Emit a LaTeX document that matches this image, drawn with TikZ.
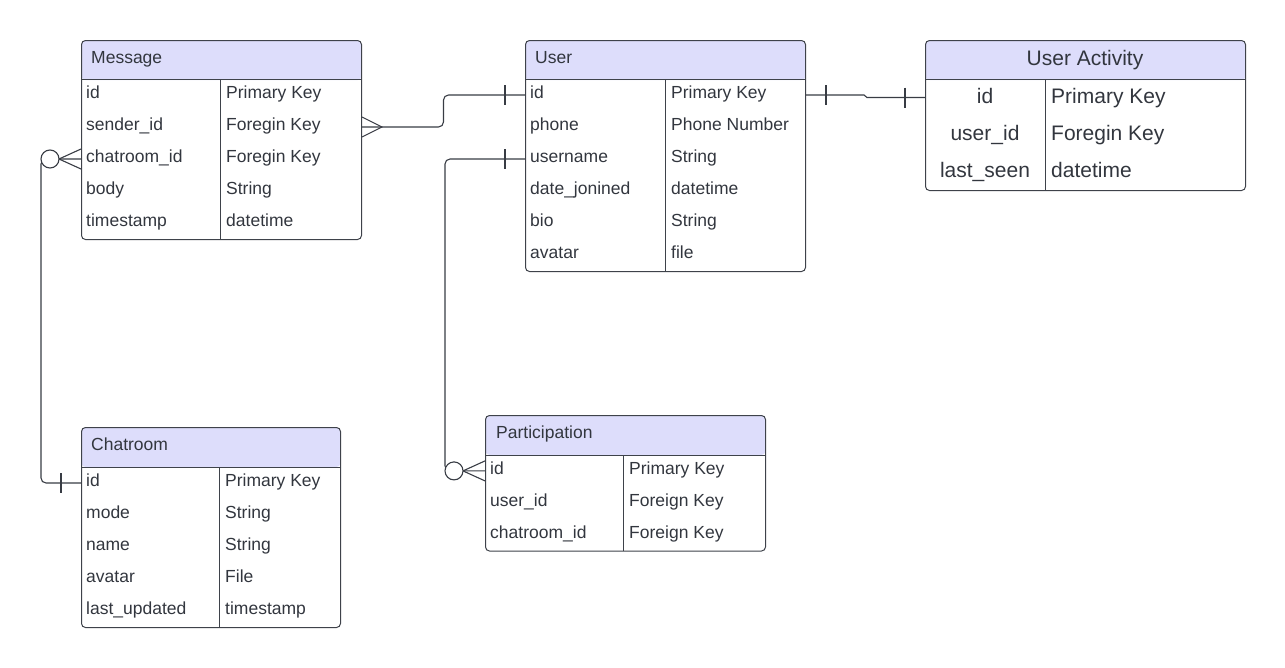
\documentclass[tikz,border=0pt]{standalone}
\usepackage{fontspec}
\setmainfont{Liberation Sans}
\usetikzlibrary{calc,positioning}

\definecolor{hdrfill}{RGB}{221,221,251}
\definecolor{boxline}{RGB}{62,66,74}
\definecolor{linec}{RGB}{56,60,68}
\definecolor{inkc}{RGB}{50,54,62}

\begin{document}
\begin{tikzpicture}[
    x=1pt, y=-1pt,
    tbl/.style={draw=boxline, line width=1pt, rounded corners=4pt, anchor=north west, inner sep=0pt,
        path picture={\fill[hdrfill] (path picture bounding box.north west) rectangle ([yshift=-39.5pt]path picture bounding box.north east);}},
    rule/.style={draw=boxline, line width=1pt},
    ttl/.style={anchor=base west, inner sep=0pt, text=inkc, font=\fontsize{17.5}{21}\selectfont},
    fld/.style={anchor=base west, inner sep=0pt, text=inkc, font=\fontsize{17.5}{21}\selectfont},
    bigttl/.style={anchor=base, inner sep=0pt, text=inkc, font=\fontsize{21}{25}\selectfont},
    conn/.style={draw=linec, line width=1.1pt}
]
\useasboundingbox (0,0) rectangle (1285,667);

% Message
\node[tbl, minimum width=280pt, minimum height=199pt] (msg) at (81,40) {};
\node[ttl] (msg-title) at (91,63.5) {Message};
\draw[rule] (81,79.5) -- (361,79.5) (220,79.5) -- (220,239);
\foreach \fname/\ftype [count=\i from 0] in {id/Primary Key, sender\_id/Foregin Key, chatroom\_id/Foregin Key, body/String, timestamp/datetime} {
    \coordinate (msg-\i) at (0,{95+32*\i});
    \node[fld] (msg-n\i) at (86,{98.5+32*\i}) {\fname};
    \node[fld] (msg-t\i) at (226,{98.5+32*\i}) {\ftype};
}

% User
\node[tbl, minimum width=280pt, minimum height=231pt] (usr) at (525,40) {};
\node[ttl] (usr-title) at (535,63.5) {User};
\draw[rule] (525,79.5) -- (805,79.5) (665,79.5) -- (665,271);
\foreach \fname/\ftype [count=\i from 0] in {id/Primary Key, phone/Phone Number, username/String, date\_jonined/datetime, bio/String, avatar/file} {
    \coordinate (usr-\i) at (0,{95+32*\i});
    \node[fld] (usr-n\i) at (530,{98.5+32*\i}) {\fname};
    \node[fld] (usr-t\i) at (671,{98.5+32*\i}) {\ftype};
}

% User Activity
\node[tbl, minimum width=320pt, minimum height=150pt] (ua) at (925,40) {};
\node[bigttl] (ua-title) at (1085,65) {User Activity};
\draw[rule] (925,79.5) -- (1245,79.5) (1045,79.5) -- (1045,190);
\foreach \fname/\ftype [count=\i from 0] in {id/Primary Key, user\_id/Foregin Key, last\_seen/datetime} {
    \coordinate (ua-\i) at (0,{97.5+37*\i});
    \node[bigttl] (ua-n\i) at (985,{103+37*\i}) {\fname};
    \node[bigttl, anchor=base west] (ua-t\i) at (1051,{103+37*\i}) {\ftype};
}

% Chatroom
\node[tbl, minimum width=259pt, minimum height=200pt] (chat) at (81,427) {};
\node[ttl] (chat-title) at (91,450.5) {Chatroom};
\draw[rule] (81,467) -- (340,467) (219,467) -- (219,627);
\foreach \fname/\ftype [count=\i from 0] in {id/Primary Key, mode/String, name/String, avatar/File, last\_updated/timestamp} {
    \coordinate (chat-\i) at (0,{483+32*\i});
    \node[fld] (chat-n\i) at (86,{486.5+32*\i}) {\fname};
    \node[fld] (chat-t\i) at (225,{486.5+32*\i}) {\ftype};
}

% Participation
\node[tbl, minimum width=280pt, minimum height=135.5pt] (part) at (485,415) {};
\node[ttl] (part-title) at (496,438.5) {Participation};
\draw[rule] (485,455) -- (765,455) (623,455) -- (623,550.5);
\foreach \fname/\ftype [count=\i from 0] in {id/Primary Key, user\_id/Foreign Key, chatroom\_id/Foreign Key} {
    \coordinate (part-\i) at (0,{470.9+31.8*\i});
    \node[fld] (part-n\i) at (490,{474.4+31.8*\i}) {\fname};
    \node[fld] (part-t\i) at (629,{474.4+31.8*\i}) {\ftype};
}

% relations
\coordinate (m1) at ($(msg.east)!.5!(usr.west)$);
\coordinate (pbend) at ($(part.west |- part-0)+(-40,0)$);
\coordinate (cbend) at ($(chat.west |- chat-0)+(-40,0)$);

% Message (many) -- User (one)
\draw[conn, rounded corners=5pt] (msg.east |- msg-1) -| (m1 |- usr-0) -- (usr.west |- usr-0);
\draw[conn] (msg.east |- msg-1) ++(0,-10) -- ++(20,10) -- ++(-20,10);
\draw[conn] (usr.west |- usr-0) ++(-20,-10) -- ++(0,20);

% User (one) -- Participation (zero or many)
\draw[conn, rounded corners=5pt] (usr.west |- usr-2) -| (pbend) -- (part.west |- part-0);
\draw[conn] (usr.west |- usr-2) ++(-20,-10) -- ++(0,20);
\draw[conn] (part.west |- part-0) ++(0,-10) -- ++(-22,10) -- ++(22,10);
\draw[conn, fill=white] ($(part.west |- part-0)+(-31,0)$) circle (9pt);

% Message (zero or many) -- Chatroom (one)
\draw[conn, rounded corners=5pt] (msg.west |- msg-2) -| (cbend) -- (chat.west |- chat-0);
\draw[conn] (msg.west |- msg-2) ++(0,-10) -- ++(-22,10) -- ++(22,10);
\draw[conn, fill=white] ($(msg.west |- msg-2)+(-31,0)$) circle (9pt);
\draw[conn] (chat.west |- chat-0) ++(-20,-10) -- ++(0,20);

% User (one) -- User Activity (one)
\draw[conn] (usr.east |- usr-0) -- ++(58,0) -- ($(ua.west |- ua-0)+(-58,0)$) -- (ua.west |- ua-0);
\draw[conn] (usr.east |- usr-0) ++(20,-10) -- ++(0,20);
\draw[conn] (ua.west |- ua-0) ++(-20,-10) -- ++(0,20);
\end{tikzpicture}
\end{document}
